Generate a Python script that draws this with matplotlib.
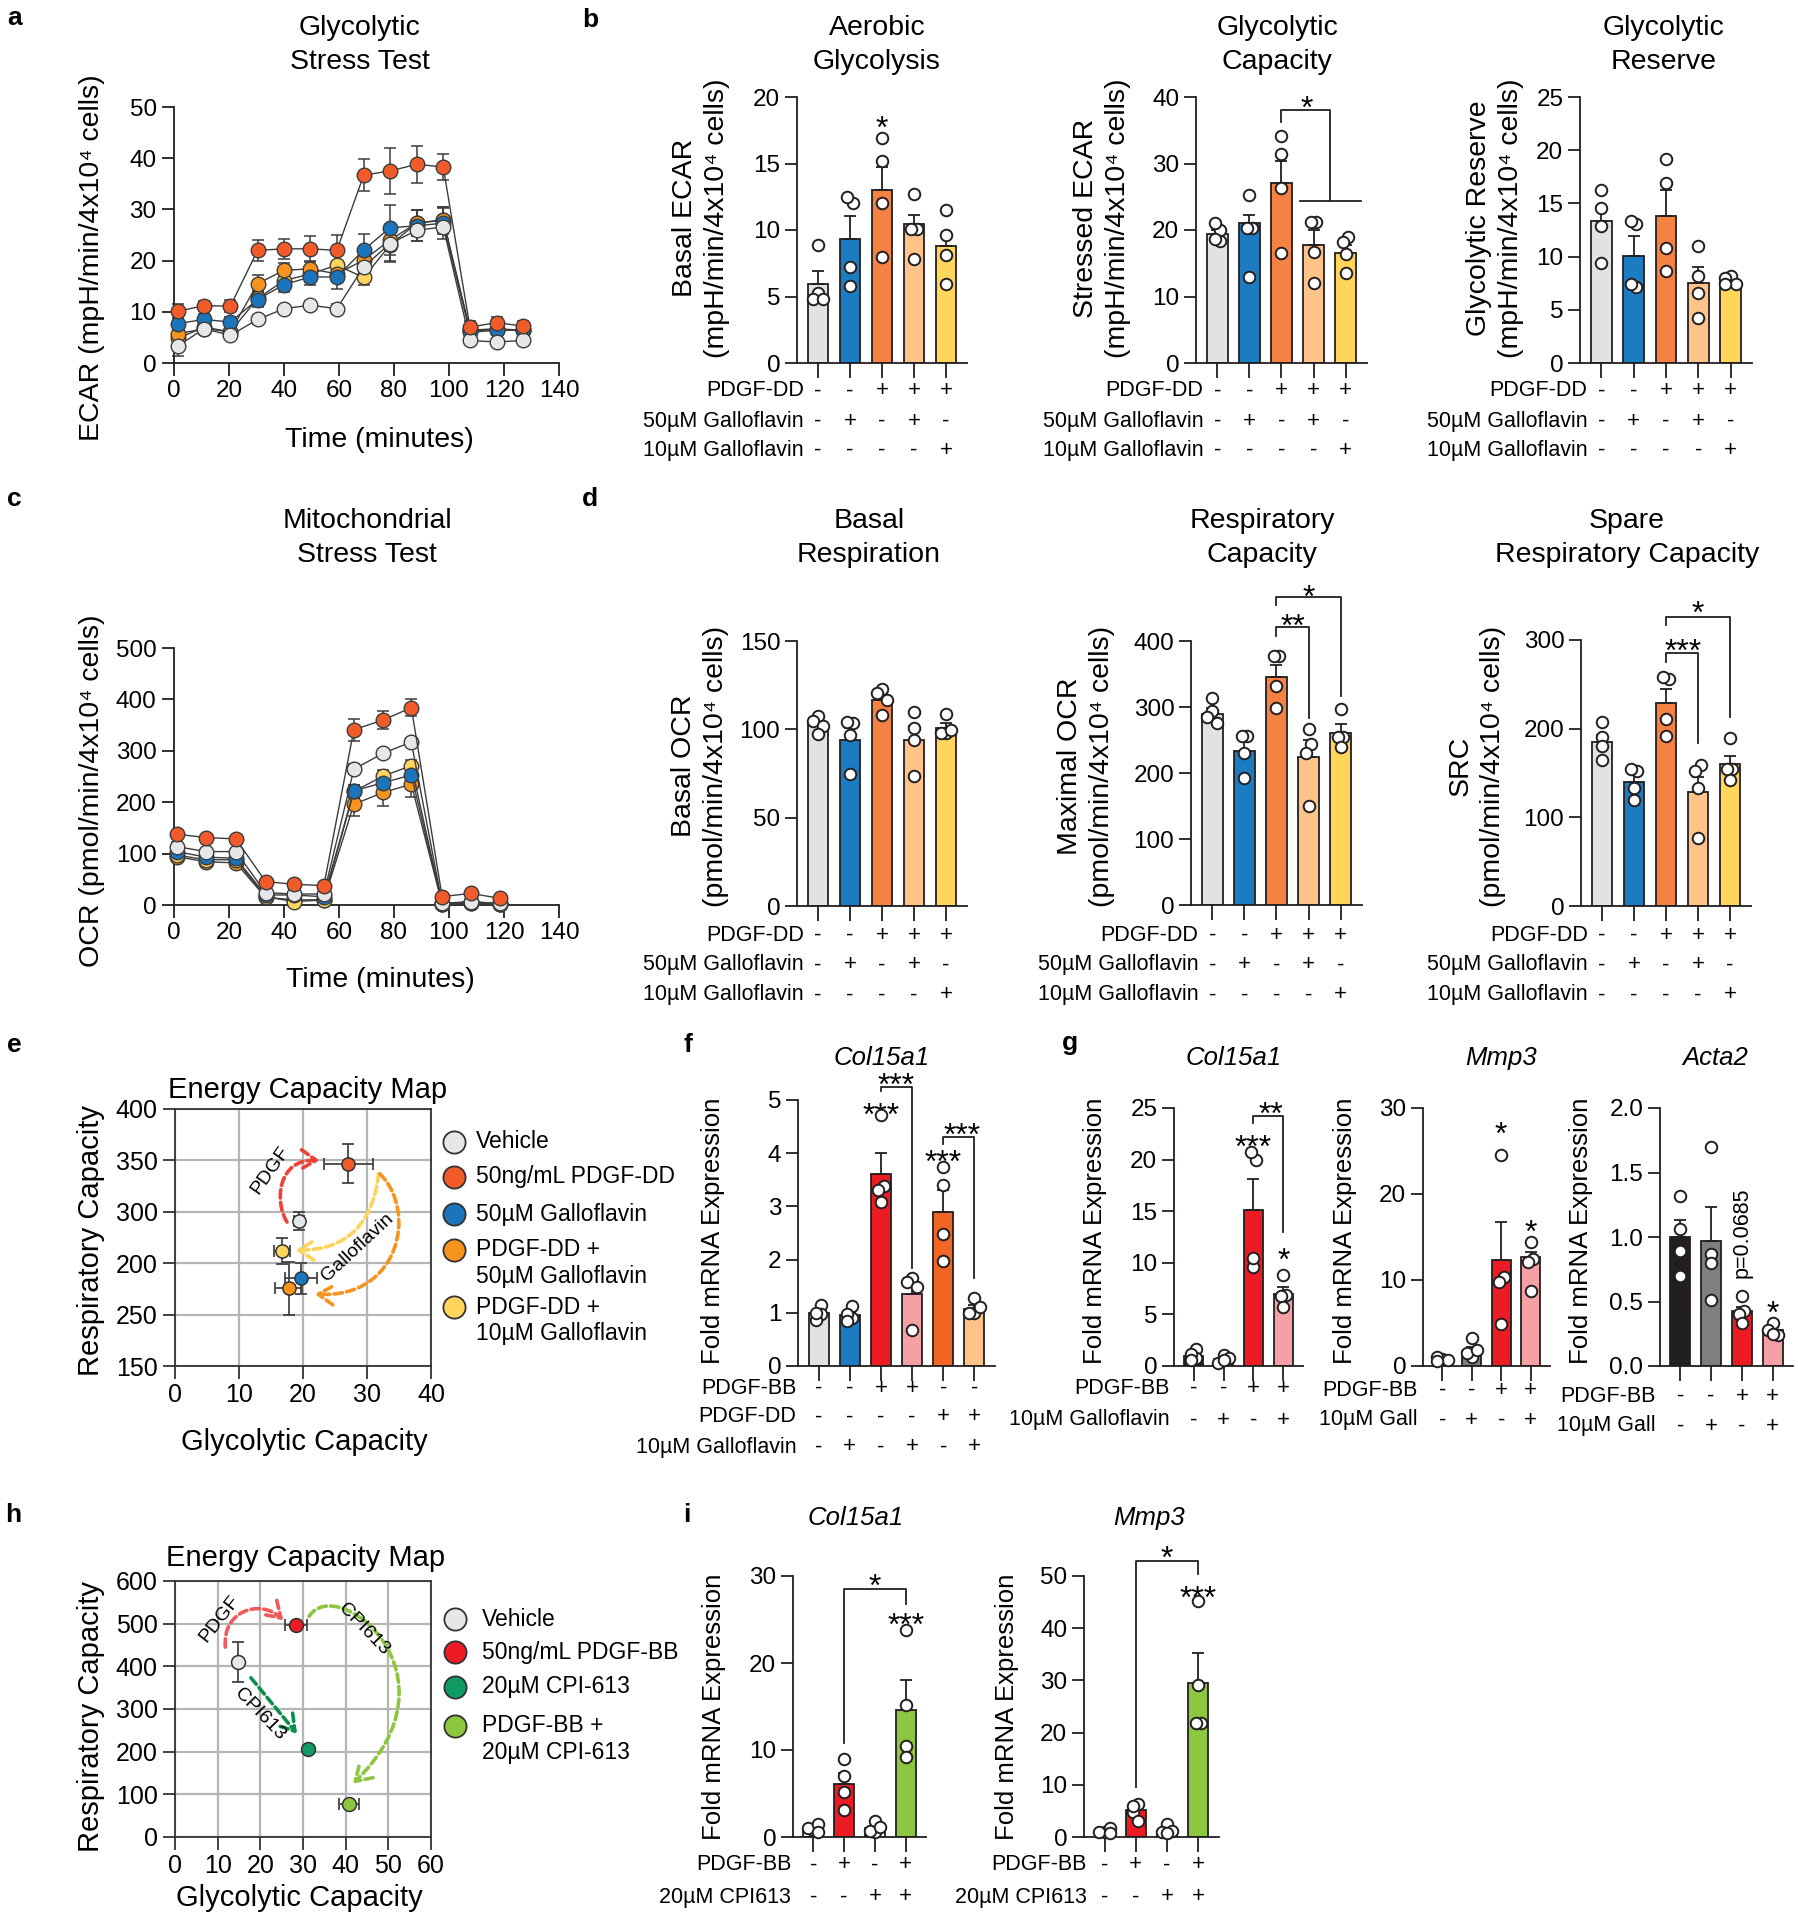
import numpy as np
import matplotlib
matplotlib.use("Agg")
import matplotlib.pyplot as plt
import matplotlib.transforms as mtrans
from matplotlib.patches import FancyArrowPatch
from matplotlib.path import Path
from matplotlib.lines import Line2D

plt.rcParams['font.family'] = ['Liberation Sans', 'DejaVu Sans']

W, H = 1799, 1920
INK = '#231F20'

# ---------------- data ----------------
# a: glycolytic stress test (ECAR)
ecar_time = [1.3, 11.0, 20.5, 30.4, 40.0, 49.6, 59.2, 69.0, 78.5, 88.2, 97.9, 107.6, 117.3, 126.9]
ecar_veh = [3.3, 6.7, 5.4, 8.5, 10.6, 11.3, 10.6, 18.8, 23.3, 25.9, 26.6, 4.4, 4.1, 4.4]
ecar_dd = [10.1, 11.2, 11.1, 22.0, 22.3, 22.3, 22.0, 36.7, 37.5, 38.8, 38.3, 7.0, 7.9, 7.2]
ecar_g50 = [7.7, 8.5, 8.0, 12.4, 15.3, 16.8, 16.8, 22.1, 26.4, 26.8, 27.3, 6.0, 6.4, 6.4]
ecar_dd_g50 = [5.7, 6.7, 6.1, 15.5, 18.1, 18.4, 17.4, 20.1, 24.0, 27.3, 28.0, 6.4, 6.7, 6.4]
ecar_dd_g10 = [4.8, 7.0, 6.1, 12.6, 16.1, 17.4, 19.1, 16.7, 23.0, 27.3, 27.9, 6.4, 6.4, 6.4]
ecar_veh_err = [2.0, 1.0, 0.8, 0.8, 0.8, 0.8, 1.0, 2.0, 3.5, 2.0, 1.5, 0.5, 0.5, 0.5]
ecar_dd_err = [1.5, 1.0, 1.2, 2.0, 2.0, 2.5, 3.0, 3.2, 4.5, 3.6, 2.5, 1.2, 1.0, 1.0]
ecar_g50_err = [1.0, 1.0, 1.0, 1.5, 1.5, 1.5, 2.3, 3.0, 4.5, 3.0, 3.0, 1.0, 1.0, 1.0]
ecar_dd_g50_err = [1.0, 1.0, 1.0, 1.7, 1.5, 1.5, 1.5, 2.0, 3.0, 2.5, 2.5, 1.0, 0.8, 0.8]
ecar_dd_g10_err = [1.0, 1.0, 1.0, 1.5, 1.5, 1.5, 2.0, 1.5, 3.0, 2.5, 2.5, 0.8, 0.8, 0.8]

# c: mitochondrial stress test (OCR)
ocr_time = [1.0, 11.7, 22.5, 33.3, 43.8, 54.5, 65.4, 76.1, 86.3, 97.5, 107.9, 118.4]
ocr_veh = [113.6, 103.9, 103.9, 24.0, 21.4, 21.4, 264, 295.5, 317, 3.2, 6.5, 3.2]
ocr_dd = [137.7, 131.2, 128.6, 45.5, 40.3, 37.7, 341, 360, 384, 16.2, 22.7, 13.0]
ocr_g50 = [104, 93, 91, 19.5, 19.5, 16, 222, 238, 253, 2, 6.5, 2]
ocr_dd_g50 = [94, 84, 82, 15, 10, 10, 196, 219, 235, 2, 3, 2]
ocr_dd_g10 = [97, 88, 88, 16, 6.5, 10, 221, 251, 271, 2, 3, 2]
ocr_veh_err = [8, 6, 6, 4, 4, 4, 10, 8, 8, 2, 2, 2]
ocr_dd_err = [6, 5, 5, 5, 4, 4, 21, 18, 16, 4, 4, 3]
ocr_g50_err = [6, 5, 5, 3, 3, 3, 12, 12, 12, 2, 2, 2]
ocr_dd_g50_err = [6, 5, 5, 3, 3, 3, 22, 26, 25, 2, 2, 2]
ocr_dd_g10_err = [6, 5, 5, 3, 3, 3, 12, 12, 12, 2, 2, 2]

# b: ECAR summaries
aero_mean = [5.94, 9.35, 13.0, 10.48, 8.77]
aero_sem = [1.0, 1.7, 1.7, 0.67, 0.9]
aero_pts = [[8.9, 5.25, 4.8, 4.8], [12.0, 12.5, 7.2, 5.8], [16.9, 15.2, 12.0, 8.0],
            [12.7, 10.1, 10.1, 7.8], [11.5, 9.6, 8.15, 5.96]]
gcap_mean = [19.35, 21.0, 27.0, 17.7, 16.6]
gcap_sem = [0.7, 1.3, 3.4, 2.3, 1.2]
gcap_pts = [[20.0, 21.1, 18.4, 18.7], [25.3, 20.3, 20.3, 13.0], [34.1, 31.5, 26.3, 16.6],
            [21.2, 21.2, 16.7, 12.1], [19.0, 18.2, 16.4, 13.6]]
gres_mean = [13.3, 10.1, 13.8, 7.5, 7.7]
gres_sem = [1.4, 1.8, 2.5, 1.5, 0.3]
gres_pts = [[16.3, 14.6, 12.9, 9.4], [13.05, 13.3, 7.1, 7.45], [19.2, 16.9, 10.85, 8.6],
            [11.0, 8.2, 6.6, 4.25], [8.2, 8.0, 7.45, 7.45]]

# d: OCR summaries
basal_mean = [102.9, 94.2, 116.8, 94.2, 101.0]
basal_sem = [1.6, 6.5, 3.2, 7.6, 2.5]
basal_pts = [[107.5, 104.8, 101.8, 97.5], [103.6, 104.2, 96.7, 74.6], [123, 120.6, 116.8, 108],
             [109.9, 101, 93.8, 73.5], [108.9, 98.2, 98.2, 99.5]]
maxr_mean = [290, 233.7, 345.7, 223.6, 261.3]
maxr_sem = [8.5, 16, 18.5, 26.5, 13]
maxr_pts = [[314, 294, 285, 276], [256, 256, 230, 192], [377, 378, 331.7, 299],
            [267, 243.7, 231, 150], [296.5, 254, 254, 240]]
src_mean = [184.4, 139.6, 229.2, 128.7, 159.6]
src_sem = [8.5, 14, 16, 17, 10]
src_pts = [[207, 190.8, 180.3, 164.5], [152.4, 155, 133.6, 120], [256, 258.6, 210.4, 192],
           [158.8, 152.4, 133, 77], [189, 155, 155, 142]]

# e: energy map (galloflavin)
e_labels = ['Vehicle', '50ng/mL PDGF-DD', '50µM Galloflavin',
            'PDGF-DD +\n50µM Galloflavin', 'PDGF-DD +\n10µM Galloflavin']
e_glyco = [19.4, 27.1, 19.75, 17.8, 16.7]
e_glyco_err = [0.8, 3.85, 2.5, 2.1, 1.2]
e_resp = [291, 346.7, 235.2, 225.4, 262.2]
e_resp_err = [9, 19, 15, 25.8, 12.7]
e_yticks = [150, 200, 250, 300, 350, 400]
e_ytick_labels = ['150', '250', '200', '300', '350', '400']

# f: Col15a1 qPCR
f_mean = [0.99, 0.96, 3.61, 1.35, 2.89, 1.08]
f_sem = [0.06, 0.05, 0.39, 0.22, 0.42, 0.06]
f_pts = [[1.15, 0.98, 0.86, 1.0], [1.13, 0.91, 0.98, 0.85], [4.71, 3.39, 3.31, 3.08],
         [1.66, 1.57, 1.49, 0.68], [3.75, 3.41, 2.49, 1.97], [1.28, 1.0, 1.0, 1.1]]

# g: qPCR with PDGF-BB +/- galloflavin
g_col_mean = [1.0, 0.7, 15.1, 6.96]
g_col_sem = [0.25, 0.2, 3.0, 0.65]
g_col_pts = [[1.68, 0.81, 1.2, 0.6], [1.1, 0.32, 0.78, 0.55], [19.98, 20.7, 9.6, 10.5], [8.8, 6.87, 6.77, 5.67]]
g_mmp_mean = [0.8, 1.7, 12.3, 12.7]
g_mmp_sem = [0.1, 0.5, 4.4, 0.5]
g_mmp_pts = [[0.85, 1.05, 0.66, 0.58], [3.26, 1.05, 1.5, 1.9], [24.5, 10.4, 9.8, 4.86], [14.46, 12.5, 12.1, 8.75]]
g_act_mean = [1.0, 0.97, 0.43, 0.28]
g_act_sem = [0.13, 0.26, 0.03, 0.02]
g_act_pts = [[1.32, 1.06, 0.89, 0.70], [1.70, 0.87, 0.80, 0.51], [0.54, 0.43, 0.40, 0.33], [0.33, 0.28, 0.24, 0.25]]

# h: energy map (CPI-613)
h_labels = ['Vehicle', '50ng/mL PDGF-BB', '20µM CPI-613', 'PDGF-BB +\n20µM CPI-613']
h_glyco = [14.66, 28.3, 31.2, 40.8]
h_glyco_err = [0.5, 2.6, 0.5, 2.25]
h_resp = [410.9, 496, 206, 76.6]
h_resp_err = [47, 5, 5, 5]

# i: qPCR with CPI-613
i_col_mean = [1.0, 6.04, 1.0, 14.6]
i_col_sem = [0.2, 1.3, 0.3, 3.4]
i_col_pts = [[0.84, 1.03, 1.49, 0.53], [8.94, 7.03, 5.12, 3.06], [1.87, 0.53, 0.73, 1.15], [23.77, 15.17, 10.47, 9.25]]
i_mmp_mean = [1.0, 5.08, 1.0, 29.5]
i_mmp_sem = [0.2, 0.7, 0.35, 5.7]
i_mmp_pts = [[0.95, 0.95, 1.7, 0.76], [6.3, 4.7, 3.1, 5.9], [2.48, 0.95, 1.2, 0.76], [45.2, 29.2, 21.9, 21.9]]

# treatment rows
dd_rows = ['PDGF-DD', '50µM Galloflavin', '10µM Galloflavin']
dd_signs = [['-', '-', '+', '+', '+'], ['-', '+', '-', '+', '-'], ['-', '-', '-', '-', '+']]
f_rows = ['PDGF-BB', 'PDGF-DD', '10µM Galloflavin']
f_signs = [['-', '-', '+', '+', '-', '-'], ['-', '-', '-', '-', '+', '+'], ['-', '+', '-', '+', '-', '+']]
g_signs = [['-', '-', '+', '+'], ['-', '+', '-', '+']]
i_rows = ['PDGF-BB', '20µM CPI613']
i_signs = [['-', '+', '-', '+'], ['-', '-', '+', '+']]

# colours
C_VEH, C_DD, C_G50, C_DDG50, C_DDG10 = '#E6E7E8', '#F15A29', '#1C75BC', '#F7941D', '#FFD55C'
BAR_DD = ['#E1E3E1', '#1B7CC1', '#F58142', '#FDC389', '#FFD65A']
F_COL = ['#E1E3E1', '#1B7CC1', '#ED1C24', '#F5A0A5', '#F26522', '#FDC389']
G_COL = ['#231F20', '#7F7F7F', '#ED1C24', '#F5A0A5']
I_COL = ['#FFFFFF', '#ED1C24', '#FFFFFF', '#8DC63F']
H_COL = ['#E6E7E8', '#ED1C24', '#0F9B63', '#8DC63F']

fig = plt.figure(figsize=(W / 100, H / 100), dpi=100)


def axpx(l, t, r, b):
    return fig.add_axes([l / W, 1 - b / H, (r - l) / W, (b - t) / H])


def ftext(x, y, s, **kw):
    return fig.text(x / W, 1 - y / H, s, **kw)


def title(x, y, s, fs=20.5, **kw):
    ftext(x, y, s, ha='center', va='center', fontsize=fs, multialignment='center', linespacing=1.42, **kw)


def ylab(x, y, s, fs=20.5):
    ftext(x, y, s, ha='center', va='center', rotation=90, fontsize=fs, multialignment='center', linespacing=1.3)


def swarm(vals, ppu_y, ppu_x, d=11.5):
    # light jitter: points that sit on top of each other are pushed sideways, but stay on the bar
    placed = []
    for v in vals:
        y = v * ppu_y
        best, bestd = 0.0, -1.0
        for k in [0, -0.45, 0.45]:
            xo = k * d
            md = min([np.hypot(xo - px, y - py) for px, py in placed], default=1e9)
            if md >= 0.75 * d:
                best = xo
                break
            if md > bestd:
                best, bestd = xo, md
        placed.append((best, y))
    offs = np.array([p[0] for p in placed])
    ys = np.array([p[1] for p in placed])
    idx = np.argsort(ys)
    groups, cur = [], [idx[0]]
    for a, b in zip(idx[:-1], idx[1:]):
        if ys[b] - ys[a] < 0.75 * d:
            cur.append(b)
        else:
            groups.append(cur)
            cur = [b]
    groups.append(cur)
    for g in groups:
        offs[g] -= (offs[g].max() + offs[g].min()) / 2
    return offs / ppu_x


def bar_panel(box, means, sems, pts, colors, ylim, yticks, ytl=None, width=0.64):
    ax = axpx(*box)
    n = len(means)
    x = np.arange(n)
    ax.set_xlim(-0.66, n - 0.34)
    ax.set_ylim(*ylim)
    ax.set_yticks(yticks)
    if ytl is not None:
        ax.set_yticklabels(ytl)
    ax.set_xticks(x)
    ax.set_xticklabels([])
    ax.spines[['top', 'right']].set_visible(False)
    for s in ['left', 'bottom']:
        ax.spines[s].set_linewidth(1.3)
        ax.spines[s].set_color(INK)
    ax.tick_params(axis='y', direction='out', length=9, width=1.3, labelsize=17.5, color=INK, pad=3)
    ax.tick_params(axis='x', direction='out', length=11, width=1.3, color=INK)
    ax.bar(x, means, width=width, color=colors, edgecolor=INK, linewidth=1.3, zorder=2)
    ax.errorbar(x, means, yerr=[np.zeros(n), sems], fmt='none', ecolor=INK, elinewidth=1.3,
                capsize=4, capthick=1.3, zorder=3)
    l, t, r, b = box
    ppu_x = (r - l) / (n + 0.32)
    ppu_y = (b - t) / (ylim[1] - ylim[0])
    for i, vals in enumerate(pts):
        offs = swarm(vals, ppu_y, ppu_x)
        ax.plot(i + offs, vals, 'o', ms=8.3, mfc='white', mec=INK, mew=1.4, zorder=4, clip_on=False)
    return ax


def rows(ax, labels, signs, ys, gap, fs=15.5):
    x0 = ax.transData.transform((0, 0))[0]
    btr = mtrans.blended_transform_factory(ax.transData, fig.transFigure)
    for lab, sg, y in zip(labels, signs, ys):
        ftext(x0 - gap, y, lab, ha='right', va='center', fontsize=fs)
        for i, s in enumerate(sg):
            ax.text(i, 1 - y / H, s, transform=btr, ha='center', va='center', fontsize=16)


def bracket(ax, x1, x2, y, y1, y2):
    ax.plot([x1, x1, x2, x2], [y1, y, y, y2], color=INK, lw=1.3, clip_on=False, zorder=5)


def star(ax, x, y, s, fs=23):
    tr = mtrans.offset_copy(ax.transData, fig=fig, x=0, y=-0.6 * fs, units='points')
    ax.text(x, y, s, ha='center', va='baseline', fontsize=fs, transform=tr, clip_on=False)


def time_course(box, t, series, errs, colors, ylim, yticks):
    ax = axpx(*box)
    for z, (vals, err, col) in enumerate(zip(series, errs, colors)):
        ax.errorbar(t, vals, yerr=err, fmt='none', ecolor='#3C3C3C', elinewidth=1.1,
                    capsize=4.5, capthick=1.1, zorder=2 + 0.1 * z, clip_on=False)
        ax.plot(t, vals, '-o', color='#3C3C3C', lw=1.0, ms=10.5, mfc=col, mec='#3C3C3C', mew=1.0,
                zorder=3 + 0.1 * z, clip_on=False)
    ax.set_xlim(0, 140)
    ax.set_ylim(*ylim)
    ax.set_xticks(range(0, 141, 20))
    ax.set_yticks(yticks)
    ax.spines[['top', 'right']].set_visible(False)
    for s in ['left', 'bottom']:
        ax.spines[s].set_linewidth(1.3)
        ax.spines[s].set_color(INK)
    ax.tick_params(direction='out', length=9, width=1.3, labelsize=17.5, color=INK)
    return ax


def curve_arrow(ax, pts, color):
    codes = [Path.MOVETO] + ([Path.CURVE4] * 3 if len(pts) == 4 else [Path.LINETO])
    arr = FancyArrowPatch(path=Path(pts, codes), arrowstyle='->,head_length=0.55,head_width=0.35',
                          mutation_scale=20, lw=2.6, ls=(0, (2.3, 1.2)), color=color,
                          transform=ax.transData, zorder=2.5)
    ax.add_patch(arr)


def energy_map(box, xs, xerr, ys, yerr, colors, xlim, ylim, xticks, yticks, ytl, ms):
    ax = axpx(*box)
    ax.set_xlim(*xlim)
    ax.set_ylim(*ylim)
    ax.set_xticks(xticks)
    ax.set_yticks(yticks)
    ax.set_yticklabels(ytl)
    ax.grid(True, color='#B5B5B5', lw=1.6)
    ax.set_axisbelow(True)
    for sp in ax.spines.values():
        sp.set_color('#333333')
        sp.set_linewidth(1.3)
    ax.tick_params(direction='out', length=9, width=1.3, labelsize=18, color='#333333')
    ax.errorbar(xs, ys, xerr=xerr, yerr=yerr, fmt='none', ecolor='#444444', elinewidth=1.3,
                capsize=4.5, capthick=1.3, zorder=3)
    for x, y, c in zip(xs, ys, colors):
        ax.plot(x, y, 'o', ms=ms, mfc=c, mec='#333333', mew=1.1, zorder=4)
    return ax


def legend(x_m, x_t, ys, labels, colors, dy=26.7):
    for y, lab, c in zip(ys, labels, colors):
        fig.add_artist(Line2D([x_m / W], [1 - y / H], marker='o', ms=16, mfc=c, mec='#333333',
                              mew=1.3, ls='none', transform=fig.transFigure))
        for k, line in enumerate(lab.split('\n')):
            ftext(x_t, y + k * dy, line, ha='left', va='center', fontsize=16.5)


# ---------------- panel letters ----------------
for lab, x, y in [('a', 7, 25), ('b', 582, 27), ('c', 7, 506), ('d', 582, 506), ('e', 7, 1052),
                  ('f', 684, 1052), ('g', 1062, 1050), ('h', 5, 1522), ('i', 683, 1522)]:
    ftext(x, y, lab, ha='left', va='baseline', fontsize=19, fontweight='bold')

# ---------------- a ----------------
ax = time_course((174, 107, 559, 363), ecar_time,
                 [ecar_dd_g10, ecar_dd_g50, ecar_g50, ecar_veh, ecar_dd],
                 [ecar_dd_g10_err, ecar_dd_g50_err, ecar_g50_err, ecar_veh_err, ecar_dd_err],
                 [C_DDG10, C_DDG50, C_G50, C_VEH, C_DD], (0, 50), range(0, 51, 10))
title(360, 45, 'Glycolytic\nStress Test')
ftext(379, 440, 'Time (minutes)', ha='center', va='center', fontsize=20.5)
ylab(92, 258, 'ECAR (mpH/min/4x10⁴ cells)')

# ---------------- b ----------------
ax = bar_panel((797, 97, 967, 363), aero_mean, aero_sem, aero_pts, BAR_DD, (0, 20), range(0, 21, 5))
rows(ax, dd_rows, dd_signs, [391, 421.5, 450.5], 14)
star(ax, 2, 18.4, '*')
title(877, 45, 'Aerobic\nGlycolysis')
ylab(701, 218, 'Basal ECAR\n(mpH/min/4x10⁴ cells)')

ax = bar_panel((1196, 97, 1367, 363), gcap_mean, gcap_sem, gcap_pts, BAR_DD, (0, 40), range(0, 41, 10))
rows(ax, dd_rows, dd_signs, [391, 421.5, 450.5], 14)
bracket(ax, 2, 3.5, 38.1, 36.3, 24.3)
ax.plot([2.58, 4.46], [24.3, 24.3], color=INK, lw=1.3, zorder=5)
star(ax, 2.77, 39.8, '*')
title(1277, 45, 'Glycolytic\nCapacity')
ylab(1102, 218, 'Stressed ECAR\n(mpH/min/4x10⁴ cells)')

ax = bar_panel((1580, 97, 1752, 363), gres_mean, gres_sem, gres_pts, BAR_DD, (0, 25), range(0, 26, 5))
rows(ax, dd_rows, dd_signs, [391, 421.5, 450.5], 14)
title(1664, 45, 'Glycolytic\nReserve')
ylab(1495, 218, 'Glycolytic Reserve\n(mpH/min/4x10⁴ cells)')

# ---------------- c ----------------
ax = time_course((174, 648, 559, 905), ocr_time,
                 [ocr_dd_g50, ocr_dd_g10, ocr_g50, ocr_veh, ocr_dd],
                 [ocr_dd_g50_err, ocr_dd_g10_err, ocr_g50_err, ocr_veh_err, ocr_dd_err],
                 [C_DDG50, C_DDG10, C_G50, C_VEH, C_DD], (0, 500), range(0, 501, 100))
title(367, 538, 'Mitochondrial\nStress Test')
ftext(380, 980, 'Time (minutes)', ha='center', va='center', fontsize=20.5)
ylab(92, 791, 'OCR (pmol/min/4x10⁴ cells)')

# ---------------- d ----------------
ax = bar_panel((797, 641, 967, 906), basal_mean, basal_sem, basal_pts, BAR_DD, (0, 150), range(0, 151, 50))
rows(ax, dd_rows, dd_signs, [935, 965, 995], 14)
title(869, 538, 'Basal\nRespiration')
ylab(700, 766, 'Basal OCR\n(pmol/min/4x10⁴ cells)')

ax = bar_panel((1191, 641, 1362, 905), maxr_mean, maxr_sem, maxr_pts, BAR_DD, (0, 400), range(0, 401, 100))
rows(ax, dd_rows, dd_signs, [935, 965, 995], 14)
bracket(ax, 2, 3, 420.6, 407, 284)
bracket(ax, 2, 4, 467, 455, 316.6)
star(ax, 2.5, 437, '**')
star(ax, 3.0, 481, '*')
title(1262, 538, 'Respiratory\nCapacity')
ylab(1086, 766, 'Maximal OCR\n(pmol/min/4x10⁴ cells)')

ax = bar_panel((1581, 640, 1751, 906), src_mean, src_sem, src_pts, BAR_DD, (0, 300), range(0, 301, 100))
rows(ax, dd_rows, dd_signs, [935, 965, 995], 14)
bracket(ax, 2, 3, 284.9, 275.5, 183.3)
bracket(ax, 2, 4, 326.3, 316.9, 213.4)
star(ax, 2.53, 298, '***')
star(ax, 3.0, 340.6, '*')
title(1627, 538, 'Spare\nRespiratory Capacity')
ylab(1477, 766, 'SRC\n(pmol/min/4x10⁴ cells)')

# ---------------- e ----------------
ax = energy_map((175, 1109, 431, 1366), e_glyco, e_glyco_err, e_resp, e_resp_err,
                [C_VEH, C_DD, C_G50, C_DDG50, C_DDG10], (0, 40), (150, 400),
                range(0, 41, 10), e_yticks, e_ytick_labels, 9.5)
curve_arrow(ax, [(17.5, 290), (15.5, 310), (16, 352), (22.6, 350)], '#EF4136')
curve_arrow(ax, [(31.8, 337), (31, 290), (27, 262), (18.8, 262.8)], '#FDD35C')
curve_arrow(ax, [(32, 337), (38, 300), (35, 215), (21.85, 220)], '#F7941D')
ax.text(14.9, 340, 'PDGF', rotation=55, rotation_mode='anchor', ha='center', va='center', fontsize=14)
ax.text(28.5, 265, 'Galloflavin', rotation=43, rotation_mode='anchor', ha='center', va='center', fontsize=14)
title(308, 1090, 'Energy Capacity Map', fs=21)
ftext(304, 1442, 'Glycolytic Capacity', ha='center', va='center', fontsize=21)
ylab(91, 1240, 'Respiratory Capacity', fs=21)
legend(454, 476, [1142, 1177, 1214, 1250, 1307], e_labels, [C_VEH, C_DD, C_G50, C_DDG50, C_DDG10])

# ---------------- f ----------------
ax = bar_panel((798, 1100, 995, 1366), f_mean, f_sem, f_pts, F_COL, (0, 5), range(0, 6))
rows(ax, f_rows, f_signs, [1388, 1417, 1447], 22)
star(ax, 2, 4.9, '***')
bracket(ax, 2, 3, 5.25, 5.16, 1.84)
star(ax, 2.5, 5.45, '***')
star(ax, 4, 4.0, '***')
bracket(ax, 4, 5, 4.31, 4.17, 1.65)
star(ax, 4.6, 4.52, '***')
title(882, 1058, 'Col15a1', fs=18.5, style='italic')
ylab(713, 1231, 'Fold mRNA Expression', fs=18.5)

# ---------------- g ----------------
ax = bar_panel((1174, 1108, 1303, 1366), g_col_mean, g_col_sem, g_col_pts, G_COL, (0, 25), range(0, 26, 5))
rows(ax, ['PDGF-BB', '10µM Galloflavin'], g_signs, [1388, 1420], 24)
star(ax, 2, 22.1, '***')
bracket(ax, 2, 3, 24.2, 23.5, 13.0)
star(ax, 2.6, 25.3, '**')
star(ax, 3, 11.2, '*')
title(1234, 1058, 'Col15a1', fs=18.5, style='italic')
ylab(1095, 1231, 'Fold mRNA Expression', fs=18.5)

ax = bar_panel((1423, 1108, 1550, 1366), g_mmp_mean, g_mmp_sem, g_mmp_pts, G_COL, (0, 30), range(0, 31, 10))
rows(ax, ['PDGF-BB', '10µM Gall'], g_signs, [1390, 1420], 25)
star(ax, 2, 28.1, '*')
star(ax, 3, 16.7, '*')
title(1501, 1058, 'Mmp3', fs=18.5, style='italic')
ylab(1345, 1231, 'Fold mRNA Expression', fs=18.5)

ax = bar_panel((1660, 1108, 1793, 1366), g_act_mean, g_act_sem, g_act_pts, G_COL, (0, 2.0),
               [0, 0.5, 1.0, 1.5, 2.0], ['0.0', '0.5', '1.0', '1.5', '2.0'])
rows(ax, ['PDGF-BB', '10µM Gall'], g_signs, [1396, 1426], 25)
star(ax, 3, 0.48, '*')
ax.text(2, 1.036, 'p=0.0685', rotation=90, ha='center', va='center', fontsize=15.5)
title(1715, 1058, 'Acta2', fs=18.5, style='italic')
ylab(1581, 1231, 'Fold mRNA Expression', fs=18.5)

# ---------------- h ----------------
ax = energy_map((175, 1581, 431, 1837), h_glyco, h_glyco_err, h_resp, h_resp_err, H_COL,
                (0, 60), (0, 600), range(0, 61, 10), range(0, 601, 100),
                [str(v) for v in range(0, 601, 100)], 10)
curve_arrow(ax, [(11.8, 445), (11, 530), (20, 560), (25.4, 507.8)], '#F05A5A')
curve_arrow(ax, [(17.8, 373), (28.6, 242)], '#0A8F4A')
curve_arrow(ax, [(31.4, 517), (38, 620), (68, 380), (41.7, 125)], '#8DC63F')
ax.text(10.5, 512, 'PDGF', rotation=52, rotation_mode='anchor', ha='center', va='center', fontsize=14)
ax.text(19.9, 287, 'CPI613', rotation=-46, rotation_mode='anchor', ha='center', va='center', fontsize=14)
ax.text(44.3, 488, 'CPI613', rotation=-46, rotation_mode='anchor', ha='center', va='center', fontsize=14)
title(306, 1558, 'Energy Capacity Map', fs=21)
ftext(299, 1898, 'Glycolytic Capacity', ha='center', va='center', fontsize=21)
ylab(91, 1716, 'Respiratory Capacity', fs=21)
legend(455, 482, [1619, 1652, 1687, 1726], h_labels, H_COL)

# ---------------- i ----------------
ax = bar_panel((793, 1576, 926, 1837), i_col_mean, i_col_sem, i_col_pts, I_COL, (0, 30), range(0, 31, 10))
rows(ax, i_rows, i_signs, [1865, 1897], 22)
bracket(ax, 1, 3, 28.5, 10.8, 26.8)
star(ax, 2, 29.9, '*')
star(ax, 3, 25.4, '***')
title(856, 1518, 'Col15a1', fs=18.5, style='italic')
ylab(714, 1707, 'Fold mRNA Expression', fs=18.5)

ax = bar_panel((1084, 1576, 1219, 1837), i_mmp_mean, i_mmp_sem, i_mmp_pts, I_COL, (0, 50), range(0, 51, 10))
rows(ax, i_rows, i_signs, [1865, 1897], 18)
bracket(ax, 1, 3, 52.9, 9.66, 50.3)
star(ax, 2, 55.3, '*')
star(ax, 3, 47.6, '***')
title(1149, 1518, 'Mmp3', fs=18.5, style='italic')
ylab(1007, 1707, 'Fold mRNA Expression', fs=18.5)

fig.savefig('out.png', dpi=100)
